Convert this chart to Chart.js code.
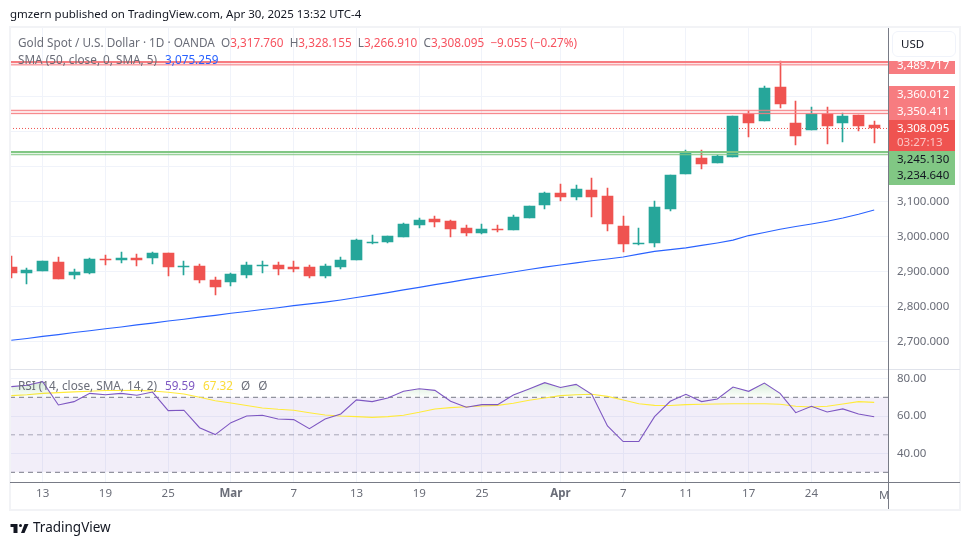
<!DOCTYPE html>
<html>
<head>
<meta charset="utf-8">
<script src="https://cdn.jsdelivr.net/npm/chart.js@4"></script>
<style>
  html, body { margin:0; padding:0; background:#fff; }
  body { width:970px; height:545px; position:relative; overflow:hidden; font-family:"Noto Sans",sans-serif; font-size:11.5px; color:#6a6d78; }
  canvas { position:absolute; left:0; top:0; }
  .t { position:absolute; white-space:nowrap; line-height:16px; }
  .legend { font-size:11.75px; }
  .box { position:absolute; }
  .tag { position:absolute; left:897px; white-space:nowrap; line-height:14px; color:#fff; font-size:11.5px; }
  .r { color:#f7525f; }
</style>
</head>
<body>
<canvas id="myChart" width="970" height="545"></canvas>

<!-- frame and pane lines -->
<div class="box" style="left:9px;top:26px;width:948px;height:481px;border:2px solid #f2f3f6"></div>
<div class="box" style="left:10px;top:369px;width:950px;height:1px;background:#e0e3eb"></div>
<div class="box" style="left:10px;top:482px;width:950px;height:1px;background:#787b86"></div>
<div class="box" style="left:888px;top:28px;width:1px;height:481px;background:#787b86"></div>

<!-- price tags -->
<div class="box" style="left:889px;top:61px;width:66px;height:13px;background:#f77c80"></div>
<div class="box" style="left:889px;top:86px;width:66px;height:34px;background:#f77c80"></div>
<div class="box" style="left:889px;top:120px;width:66px;height:31px;background:#ef5350"></div>
<div class="box" style="left:889px;top:151px;width:66px;height:34px;background:#81c784"></div>
<div class="tag" style="top:58px">3,489.717</div>
<div class="tag" style="top:87px">3,360.012</div>
<div class="tag" style="top:104px">3,350.411</div>
<div class="tag" style="top:121px">3,308.095</div>
<div class="tag" style="top:135px;color:#fbc5c4">03:27:13</div>
<div class="tag" style="top:152px;color:#131722">3,245.130</div>
<div class="tag" style="top:168px;color:#131722">3,234.640</div>

<!-- currency button -->
<div class="box" style="left:892px;top:31px;width:62px;height:24px;border:1px solid #f0f3fa;border-radius:6px"></div>
<div class="t" style="left:901px;top:36px;color:#131722">USD</div>

<!-- header and legends -->
<div class="t" style="left:10px;top:6px;color:#131722">gmzern published on TradingView.com, Apr 30, 2025 13:32 UTC-4</div>
<div class="t legend" style="left:18px;top:34px">Gold Spot / U.S. Dollar · 1D · OANDA&nbsp; O<span class="r">3,317.760</span>&nbsp; H<span class="r">3,328.155</span>&nbsp; L<span class="r">3,266.910</span>&nbsp; C<span class="r">3,308.095</span>&nbsp; <span class="r">−9.055 (−0.27%)</span></div>
<div class="t legend" style="left:18px;top:51px">SMA (50, close, 0, SMA, 5)<span style="color:#2962ff;margin-left:8px">3,075.259</span></div>
<div class="t legend" style="left:18px;top:377px">RSI (14, close, SMA, 14, 2)<span style="color:#7e57c2;margin-left:8px">59.59</span><span style="color:#fbdc3a;margin-left:8px">67.32</span><span style="margin-left:8px">Ø</span><span style="margin-left:8px">Ø</span></div>

<!-- clipped first letter of the next month on the time axis -->
<div class="t" style="left:879px;top:487px;width:9px;overflow:hidden">May</div>

<!-- footer logo -->
<svg class="box" style="left:10px;top:521px" width="19" height="14" viewBox="0 0 36 28"><path fill="#131722" d="M14 6H0v6h6v12h8V6zm14 18h-7l7-18h8l-8 18zm-8-12a3 3 0 1 0 0-6 3 3 0 0 0 0 6z"/></svg>
<div class="t" style="left:33px;top:519px;color:#131722;font-size:13.5px">TradingView</div>

<script>
//trading days on the time axis
const dates = ["Feb 11","Feb 12","Feb 13","Feb 14","Feb 17","Feb 18","Feb 19","Feb 20","Feb 21",
  "Feb 24","Feb 25","Feb 26","Feb 27","Feb 28",
  "Mar 3","Mar 4","Mar 5","Mar 6","Mar 7","Mar 10","Mar 11","Mar 12","Mar 13","Mar 14",
  "Mar 17","Mar 18","Mar 19","Mar 20","Mar 21","Mar 24","Mar 25","Mar 26","Mar 27","Mar 28","Mar 31",
  "Apr 1","Apr 2","Apr 3","Apr 4","Apr 7","Apr 8","Apr 9","Apr 10","Apr 11","Apr 14","Apr 15","Apr 16","Apr 17",
  "Apr 21","Apr 22","Apr 23","Apr 24","Apr 25","Apr 28","Apr 29","Apr 30"];

//candle values
const opens = [2912.3,2895.1,2900.9,2926.6,2889.4,2895.1,2935.1,2932.3,2938,2938,2952.3,2912.3,2915.1,2875.1,
  2869.4,2889.4,2915.1,2918,2912.3,2912.3,2886.6,2912.3,2932.3,2980.9,2983.7,2998,3032.3,3049.4,3043.7,3023.7,
  3009.4,3020.9,3018,3052.3,3089.4,3123.7,3112.3,3132.3,3115.1,3029.4,2978,2980.9,3078,3178,3223.7,3209.4,
  3226.6,3349.4,3329.4,3426.6,3323.7,3303.7,3349.4,3323.7,3346.6,3317.76];
const highs = [2943.7,2909.4,2929.4,2940.9,2906.6,2938,2946.6,2955.1,2949.4,2955.1,2952.3,2929.4,2920.9,2883.7,
  2895.1,2926.6,2929.4,2926.6,2929.4,2918,2920.9,2940.9,2991,3003.7,3000.9,3038,3052.3,3058,3046.6,3032.3,
  3035.1,3032.3,3060.9,3086.6,3126.6,3149.4,3146.6,3166.6,3138,3058,3023.7,3100.9,3175.1,3246.6,3246.6,3232.3,
  3343.7,3358,3429.4,3500.9,3386.6,3369.4,3369.4,3352.3,3346.6,3328.155];
const lows = [2880.9,2863.7,2900.9,2878,2878,2892.3,2918,2923.7,2915.1,2920.9,2886.6,2889.4,2866.6,2832.3,
  2858,2880.9,2895.1,2889.4,2898,2880.9,2880.9,2906.6,2932.3,2978,2980.9,2998,3023.7,3026.6,2998,3000.9,
  3006.6,3012.3,3018,3052.3,3078,3100.9,3103.7,3055.1,3015.1,2955.1,2975.1,2969.4,3072.3,3178,3192.3,3209.4,
  3226.6,3283.7,3329.4,3366.6,3260.9,3303.7,3263.7,3269.4,3300.9,3266.91];
const closes = [2895.1,2903.7,2929.4,2878,2898,2935.1,2932.3,2938,2932.3,2952.3,2912.3,2915.1,2875.1,2855.1,
  2892.3,2918,2918,2906.6,2906.6,2886.6,2915.1,2932.3,2989.4,2983.7,3000.9,3035.1,3046.6,3040.9,3020.9,3009.4,
  3020.9,3018,3055.1,3086.6,3123.7,3112.3,3135.1,3112.3,3035.1,2978,2980.9,3083.7,3175.1,3238,3206.6,3229.4,
  3343.7,3323.7,3423.7,3378,3286.6,3349.4,3315.1,3343.7,3315.1,3308.095];

//moving average line
const smaValues = [2703,2708,2714,2719,2725,2730,2736,2741,2747,2752,2758,2763,2769,2774,2780,2785,2791,2796,2802,2807,
  2812,2818,2825,2832,2839,2847,2854,2862,2869,2877,2884,2891,2898,2905,2912,2918,2924,2930,2935,2941,
  2949,2957,2962,2967,2974,2981,2989,3002,3011,3020,3028,3035,3043,3052,3063,3075.259];

//RSI and its moving average
const rsiValues = [75.7,76.4,78.3,65.9,67.7,72.1,71.4,72.1,71.1,72.8,62.9,63.1,53.8,50.1,56.5,60,60.4,58.4,58.1,53.3,58.4,
  61.1,68.6,67.7,69.6,73.2,74.6,73.7,67.9,64.7,66.1,66.1,71.2,74.4,77.8,75.2,76.9,71.6,54.7,46.4,46.4,59.7,
  67.9,71.6,67.7,69.1,75.5,73.2,77.6,72.1,61.8,65.2,62.2,63.8,61.1,59.59];
const rsiSmaValues = [70.9,71.4,72.1,72.5,72.9,73.2,73.6,73.6,73.7,73.4,72.7,71.8,70,68.2,67,65.6,64.3,63.6,63.1,61.8,60.6,
  60,59.7,59.3,59.7,60.4,62,63.8,64.5,65,65.4,65.7,66.8,68.4,69.6,70.9,71.4,71.6,70.5,68.6,66.6,65.7,
  65.6,66.1,66.3,66.4,66.6,66.6,66.6,66.3,65.2,64.8,65.2,66.4,67.7,67.32];

//horizontal levels
const upperZone = [3498,3489.717];
const middleZone = [3360.012,3350.411];
const lowerZone = [3241,3233];
const lastPrice = [3308.095];
const rsiBands = [70,50,30];

//axis ticks
const timeTickIndex = [2,6,10,14,18,22,26,30,35,39,43,47,51];
const timeTickLabels = ["13","19","25","Mar","7","13","19","25","Apr","7","11","17","24"];
const monthLabels = ["Mar","Apr"];
const priceTicks = [2700,2800,2900,3000,3100,3200,3300,3400,3500];
const priceLabelTicks = [2700,2800,2900,3000,3100];
const rsiTicks = [40,60,80];

const UP = "#26a69a";
const DOWN = "#ef5350";
const X_MIN = -0.083;
const X_MAX = 55.88;

//flat line across the whole pane
function levelData(value) {
  return [{x:X_MIN, y:value}, {x:X_MAX, y:value}];
}

function levelSet(value, color, width, axis, extra) {
  return Object.assign({
    type:"line", data:levelData(value), yAxisID:axis,
    borderColor:color, borderWidth:width, pointRadius:0, fill:false, order:1
  }, extra || {});
}

function seriesLine(values, color, axis, extra) {
  return Object.assign({
    type:"line", data:values.map((v,i)=>({x:i, y:v})), yAxisID:axis,
    borderColor:color, borderWidth:1.1, pointRadius:0, tension:0, fill:false, order:4
  }, extra || {});
}

const canvas = document.getElementById("myChart");
const ctx = canvas.getContext("2d");

//overbought fill fades toward the 70 line
const overbought = ctx.createLinearGradient(0, 378, 0, 397);
overbought.addColorStop(0, "rgba(76,175,80,0.28)");
overbought.addColorStop(1, "rgba(76,175,80,0.02)");

const candleColors = opens.map((o,i)=> closes[i] >= o ? UP : DOWN);

const datasets = [
  //RSI band first so the bars never sit under it
  levelSet(rsiBands[0], "#787b86", 1, "yRsi", {borderDash:[5,4], fill:"+1", backgroundColor:"rgba(126,87,194,0.1)", order:9}),
  levelSet(rsiBands[2], "#787b86", 1, "yRsi", {borderDash:[5,4], order:9}),
  levelSet(rsiBands[1], "rgba(120,123,134,0.6)", 1, "yRsi", {borderDash:[5,4], order:9}),
  seriesLine(rsiSmaValues, "#ffeb3b", "yRsi", {order:8}),
  seriesLine(rsiValues, "#7e57c2", "yRsi", {order:7, fill:{target:{value:70}, above:overbought, below:"rgba(0,0,0,0)"}}),
  levelSet(lastPrice[0], DOWN, 1, "y", {borderDash:[1,2], order:6}),
  seriesLine(smaValues, "#2962ff", "y", {order:5}),
  {
    //wicks
    type:"bar", data:dates.map((d,i)=>({x:i, y:[lows[i], highs[i]]})), yAxisID:"y",
    backgroundColor:candleColors, barThickness:1, grouped:false, order:3
  },
  {
    //bodies
    type:"bar", data:dates.map((d,i)=>({x:i, y:[opens[i], closes[i]]})), yAxisID:"y",
    backgroundColor:candleColors, barThickness:11, grouped:false, order:2
  },
  levelSet(upperZone[0], "#f77c80", 2, "y", {fill:"+1", backgroundColor:"rgba(247,124,128,0.2)"}),
  levelSet(upperZone[1], "#f77c80", 1, "y"),
  levelSet(middleZone[0], "#f77c80", 1, "y", {fill:"+1", backgroundColor:"rgba(247,124,128,0.2)"}),
  levelSet(middleZone[1], "#f77c80", 1, "y"),
  levelSet(lowerZone[0], "#81c784", 2, "y", {fill:"+1", backgroundColor:"rgba(129,199,132,0.2)"}),
  levelSet(lowerZone[1], "#81c784", 1, "y")
];

//snap candle rectangles to whole pixels so the edges stay sharp
const snapCandles = {
  id:"snapCandles",
  afterDatasetsUpdate(chart) {
    chart.getSortedVisibleDatasetMetas().forEach(meta => {
      if (meta.type !== "bar") return;
      meta.data.forEach(bar => {
        bar.x = Math.floor(bar.x) + 0.5;
        bar.y = Math.round(bar.y);
        bar.base = Math.round(bar.base);
        if (bar.y === bar.base) bar.base = bar.y + 1;
      });
    });
  }
};

const axisFont = {family:"'Noto Sans',sans-serif", size:11.5};

new Chart(canvas, {
  type:"bar",
  data:{datasets:datasets},
  plugins:[snapCandles],
  options:{
    responsive:false,
    animation:false,
    events:[],
    layout:{padding:{left:10, top:28, right:10, bottom:36}},
    plugins:{legend:{display:false}, tooltip:{enabled:false}},
    scales:{
      x:{
        type:"linear", min:X_MIN, max:X_MAX, offset:false,
        grid:{color:"#f0f3fa", offset:false, drawTicks:false},
        border:{display:false},
        afterBuildTicks:(axis)=>{ axis.ticks = timeTickIndex.map(v=>({value:v})); },
        afterFit:(axis)=>{ axis.height = 27; },
        ticks:{
          autoSkip:false, maxRotation:0, padding:5, color:"#6a6d78",
          font:(c)=>{
            const label = c.tick ? timeTickLabels[timeTickIndex.indexOf(c.tick.value)] : "";
            return Object.assign({}, axisFont, {weight: monthLabels.includes(label) ? "bold" : "normal"});
          },
          callback:(v)=>timeTickLabels[timeTickIndex.indexOf(v)]
        }
      },
      y:{
        type:"linear", position:"right", stack:"panes", stackWeight:341.5, weight:1,
        min:2619.4, max:3595.1,
        grid:{color:"#f0f3fa", drawTicks:false},
        border:{display:false},
        afterBuildTicks:(axis)=>{ axis.ticks = priceTicks.map(v=>({value:v})); },
        afterFit:(axis)=>{ axis.width = 72; },
        ticks:{
          padding:9, color:"#6a6d78", font:axisFont, crossAlign:"near",
          callback:(v)=> priceLabelTicks.includes(v) ? v.toLocaleString("en-US",{minimumFractionDigits:3}) : ""
        }
      },
      yRsi:{
        type:"linear", position:"right", stack:"panes", stackWeight:112.5, weight:2,
        min:24.83, max:84.83,
        grid:{color:"#f0f3fa", drawTicks:false},
        border:{display:false},
        afterBuildTicks:(axis)=>{ axis.ticks = rsiTicks.map(v=>({value:v})); },
        afterFit:(axis)=>{ axis.width = 72; },
        ticks:{
          padding:9, color:"#6a6d78", font:axisFont, crossAlign:"near",
          callback:(v)=>v.toFixed(2)
        }
      }
    }
  }
});
</script>
</body>
</html>
